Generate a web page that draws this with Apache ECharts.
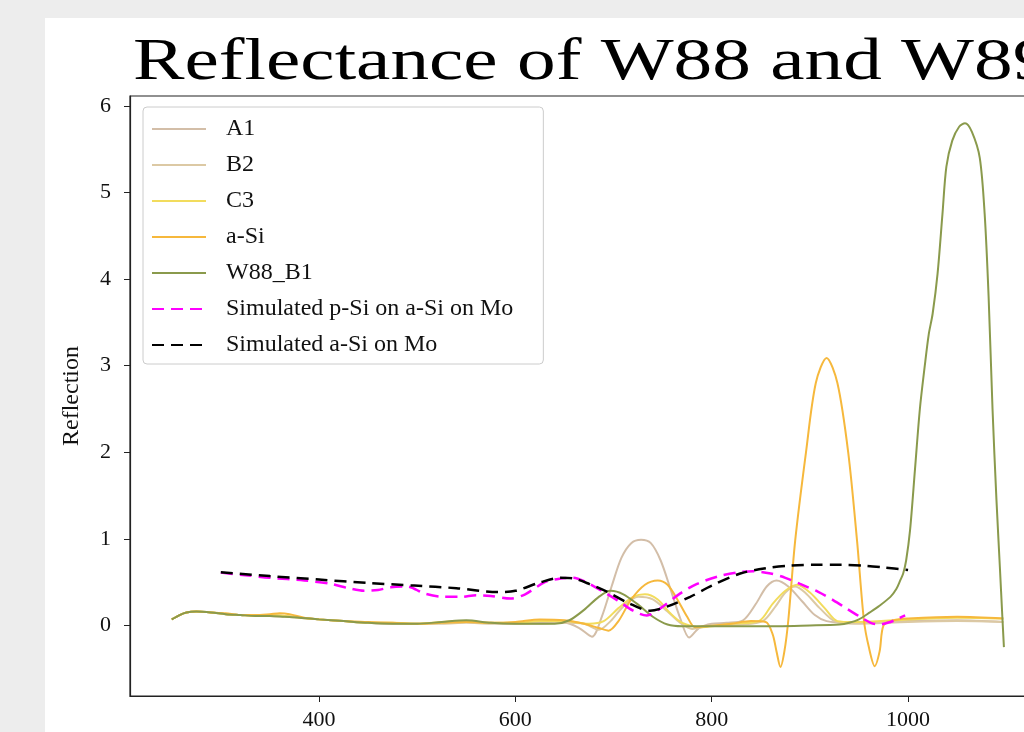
<!DOCTYPE html>
<html>
<head>
<meta charset="utf-8">
<script src="https://cdn.jsdelivr.net/npm/echarts@6/dist/echarts.min.js"></script>
<style>
html,body{margin:0;padding:0;background:#ededed;}
#c{width:1024px;height:732px;}
</style>
</head>
<body>
<div id="c"></div>
<script>
// ---------- DATA ----------
const TITLE = 'Reflectance of W88 and W89';
const Y_NAME = 'Reflection';
const X_TICKS = [400, 600, 800, 1000];
const Y_TICKS = [0, 1, 2, 3, 4, 5, 6];
const SERIES_NAMES = ['A1', 'B2', 'C3', 'a-Si', 'W88_B1', 'Simulated p-Si on a-Si on Mo', 'Simulated a-Si on Mo'];

const A1_WL = [250,258,265,275,290,305,320,335,350,365,380,400,425,450,475,500,525,550,575,600,625,650,665,678,688,698,708,718,728,738,748,758,768,777,787,800,815,832,845,856,866,878,892,905,917,940,1000,1050,1097];
const A1_R  = [0.07,0.12,0.15,0.16,0.15,0.13,0.12,0.11,0.12,0.11,0.09,0.07,0.05,0.03,0.02,0.02,0.03,0.04,0.03,0.02,0.03,0.03,-0.03,-0.13,0.1,0.45,0.78,0.95,0.99,0.95,0.75,0.42,0.08,-0.14,-0.03,0.02,0.03,0.06,0.25,0.45,0.52,0.45,0.28,0.12,0.05,0.03,0.05,0.06,0.04];

const B2_WL = [250,258,265,275,290,305,320,335,350,365,380,400,425,450,475,500,525,550,575,600,625,650,670,685,697,710,725,740,755,768,780,800,830,852,865,875,885,895,910,925,945,1000,1050,1097];
const B2_R  = [0.07,0.12,0.15,0.16,0.15,0.13,0.12,0.11,0.11,0.10,0.09,0.07,0.05,0.03,0.02,0.02,0.02,0.03,0.02,0.02,0.02,0.03,0.02,-0.05,0.05,0.22,0.33,0.30,0.16,0.03,-0.04,0.0,0.01,0.05,0.22,0.38,0.45,0.38,0.20,0.05,0.02,0.04,0.05,0.04];

const C3_WL = [250,258,265,275,290,305,320,335,350,365,380,400,425,450,475,500,525,550,575,600,625,650,675,690,705,720,732,745,757,770,790,820,848,862,875,887,900,915,928,945,1000,1050,1097];
const C3_R  = [0.07,0.12,0.15,0.16,0.15,0.13,0.12,0.11,0.12,0.11,0.09,0.07,0.05,0.03,0.03,0.02,0.04,0.05,0.03,0.03,0.05,0.05,0.02,0.05,0.2,0.33,0.36,0.3,0.15,0.03,-0.02,0.02,0.05,0.25,0.40,0.47,0.38,0.20,0.05,0.04,0.07,0.09,0.08];

const ASI_WL = [250,258,265,275,290,305,320,335,350,360,370,385,400,425,450,475,500,525,550,575,600,625,650,670,685,695,705,718,732,745,755,765,775,783,795,820,840,855,862,866,870,874,878,885,896,906,917,928,939,948,955,960,966,971,975,985,1000,1050,1097];
const ASI_R  = [0.07,0.12,0.15,0.16,0.15,0.14,0.12,0.12,0.13,0.14,0.13,0.09,0.07,0.05,0.04,0.03,0.02,0.03,0.04,0.03,0.04,0.07,0.06,0.02,-0.03,-0.06,0.05,0.3,0.47,0.52,0.47,0.3,0.1,-0.02,-0.01,0.02,0.05,0.04,-0.1,-0.3,-0.48,-0.3,0.06,0.98,2.0,2.8,3.09,2.8,2.0,0.98,0.06,-0.25,-0.47,-0.3,0.0,0.06,0.08,0.1,0.08];

const W88_WL = [250,258,265,275,290,305,320,335,350,365,380,400,425,450,475,500,525,550,575,600,625,640,655,670,685,697,710,725,740,755,770,800,850,900,930,940,950,961,970,982,988,992,995,998,1002,1007,1012,1017,1021,1025,1030,1035,1039,1045,1052,1058,1065,1073,1078,1082,1086,1090,1093.5,1096,1097.6];
const W88_R  = [0.07,0.12,0.15,0.16,0.15,0.13,0.12,0.11,0.11,0.10,0.09,0.07,0.05,0.03,0.02,0.02,0.04,0.06,0.03,0.02,0.02,0.02,0.06,0.18,0.33,0.40,0.36,0.24,0.10,0.01,-0.01,-0.01,-0.01,0.0,0.01,0.03,0.07,0.15,0.22,0.33,0.42,0.52,0.6,0.75,1.1,1.8,2.5,3.0,3.36,3.6,4.06,4.75,5.3,5.6,5.76,5.8,5.7,5.4,4.75,3.8,2.5,1.45,0.67,0.1,-0.25];

const SIMP_WL = [300,325,350,385,412,430,446,460,473,490,507,527,545,560,575,595,610,630,645,659,672,688,704,720,734,748,768,785,806,825,842,860,875,890,908,924,938,951,962,971,982,990,997];
const SIMP_R  = [0.61,0.58,0.55,0.52,0.48,0.43,0.40,0.41,0.44,0.45,0.37,0.33,0.33,0.35,0.34,0.31,0.36,0.50,0.54,0.55,0.50,0.40,0.29,0.17,0.115,0.2,0.37,0.48,0.565,0.61,0.626,0.6,0.55,0.48,0.39,0.29,0.19,0.10,0.03,0.01,0.04,0.08,0.115];

const SIMA_WL = [300,350,400,450,497,540,582,600,626,646,660,675,694,715,737,755,778,800,829,855,880,905,931,955,975,1000];
const SIMA_R  = [0.615,0.57,0.53,0.49,0.46,0.43,0.385,0.40,0.50,0.55,0.54,0.48,0.385,0.26,0.17,0.22,0.33,0.46,0.60,0.66,0.69,0.70,0.70,0.69,0.67,0.64];

// ---------- CHART ----------
const FONT = '"Liberation Serif", "Times New Roman", serif';
function pairs(wl, r) { return wl.map((w, i) => [w, r[i]]); }

const COLORS = ['#d3bea8', '#dcc9a4', '#f2dc5d', '#f6b83c', '#8a9a4c', '#ff00ff', '#000000'];
const DATA = [pairs(A1_WL, A1_R), pairs(B2_WL, B2_R), pairs(C3_WL, C3_R), pairs(ASI_WL, ASI_R),
              pairs(W88_WL, W88_R), pairs(SIMP_WL, SIMP_R), pairs(SIMA_WL, SIMA_R)];

const series = SERIES_NAMES.map((name, i) => {
  const dashed = i >= 5;
  return {
    name: name,
    type: 'line',
    data: DATA[i],
    showSymbol: false,
    symbol: 'none',
    smooth: 0.3,
    color: COLORS[i],
    lineStyle: { color: COLORS[i], width: dashed ? 2.5 : 2, type: dashed ? [12, 7] : 'solid' },
    emphasis: { disabled: true },
    z: 2 + i
  };
});

const chart = echarts.init(document.getElementById('c'), null, { renderer: 'canvas', width: 1024, height: 732 });
chart.setOption({
  animation: false,
  backgroundColor: '#ededed',
  graphic: [{
    type: 'rect', z: -10, silent: true,
    shape: { x: 45, y: 18, width: 1100, height: 800 },
    style: { fill: '#ffffff' }
  }, {
    type: 'text', z: 10, silent: true,
    x: 133, y: 60, scaleX: 1.12, scaleY: 0.85, originX: 0, originY: 23,
    style: { text: TITLE, font: 'normal 69px ' + FONT, fill: '#000', verticalAlign: 'middle', align: 'left' }
  }],
  legend: {
    orient: 'vertical', left: 143, top: 107,
    padding: [10, 30, 7, 8],
    itemWidth: 54, itemHeight: 14, itemGap: 12,
    borderColor: '#cccccc', borderWidth: 1, borderRadius: 4,
    backgroundColor: 'rgba(255,255,255,0.85)',
    itemStyle: { opacity: 0, borderWidth: 0 },
    textStyle: { fontFamily: FONT, fontSize: 24, color: '#111', lineHeight: 22, padding: [0, 0, 0, 15] },
    data: SERIES_NAMES
  },
  grid: {
    left: 130, top: 96, width: 918, height: 600,
    outerBoundsMode: 'none', containLabel: false,
    show: true, borderColor: '#222', borderWidth: 1.2, backgroundColor: 'transparent'
  },
  xAxis: {
    type: 'value', min: 207.5, max: 1142.5,
    axisLine: { show: true, onZero: false, lineStyle: { color: '#222', width: 1.2 } },
    splitLine: { show: false },
    axisTick: { show: true, length: 6, customValues: X_TICKS, lineStyle: { color: '#222' } },
    axisLabel: { customValues: X_TICKS, margin: 13, fontFamily: FONT, fontSize: 22, color: '#111',
                 formatter: v => String(v) }
  },
  yAxis: {
    type: 'value', min: -0.815, max: 6.115,
    name: Y_NAME, nameLocation: 'middle', nameGap: 46,
    nameTextStyle: { fontFamily: FONT, fontSize: 24, color: '#111' },
    axisLine: { show: true, onZero: false, lineStyle: { color: '#222', width: 1.2 } },
    splitLine: { show: false },
    axisTick: { show: true, length: 6, customValues: Y_TICKS, lineStyle: { color: '#222' } },
    axisLabel: { customValues: Y_TICKS, margin: 19, fontFamily: FONT, fontSize: 22, color: '#111',
                 formatter: v => String(v) }
  },
  series: series
});
</script>
</body>
</html>
